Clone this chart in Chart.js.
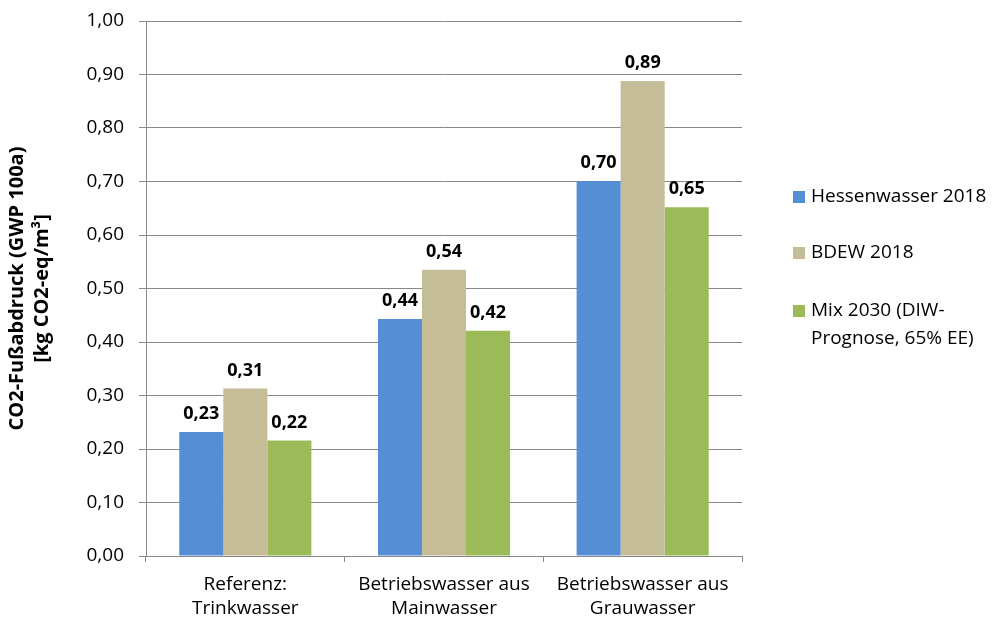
<!DOCTYPE html>
<html><head><meta charset="utf-8">
<script src="https://cdn.jsdelivr.net/npm/chart.js@4"></script>
<style>html,body{margin:0;padding:0;background:#fff}#wrap{width:995px;height:622px}</style>
</head><body><div id="wrap"><canvas id="c" width="995" height="622"></canvas></div>
<script>
const categories = [["Referenz:", "Trinkwasser"], ["Betriebswasser aus", "Mainwasser"], ["Betriebswasser aus", "Grauwasser"]];
const seriesNames = ["Hessenwasser 2018", "BDEW 2018", ["Mix 2030 (DIW-", "Prognose, 65% EE)"]];
const hessenwasser = [0.232, 0.443, 0.701];
const bdew = [0.313, 0.535, 0.888];
const mix2030 = [0.216, 0.421, 0.652];
const yTicks = [0, 0.1, 0.2, 0.3, 0.4, 0.5, 0.6, 0.7, 0.8, 0.9, 1.0];
const colors = ["#558ED5", "#C4BD97", "#9BBB59"];
const FONT = "'Open Sans', sans-serif";

const fmt = v => v.toFixed(2).replace('.', ',');

const valueLabels = {
  id: 'valueLabels',
  afterDatasetsDraw(chart) {
    const ctx = chart.ctx;
    ctx.save();
    ctx.font = "bold 18px " + FONT;
    ctx.fillStyle = "#000";
    ctx.textAlign = "center";
    ctx.textBaseline = "middle";
    chart.data.datasets.forEach((ds, i) => {
      chart.getDatasetMeta(i).data.forEach((bar, j) => {
        ctx.fillText(fmt(ds.data[j]), bar.x, bar.y - 18);
      });
    });
    ctx.restore();
  }
};

const customLegend = {
  id: 'customLegend',
  afterDraw(chart) {
    const ctx = chart.ctx;
    ctx.save();
    ctx.font = "19px " + FONT;
    ctx.textBaseline = "middle";
    const ys = [197, 253, 311];
    seriesNames.forEach((name, i) => {
      ctx.fillStyle = colors[i];
      ctx.fillRect(793, ys[i] - 6, 12, 12);
      ctx.fillStyle = "#000";
      const lines = Array.isArray(name) ? name : [name];
      lines.forEach((ln, k) => ctx.fillText(ln, 811, ys[i] + k * 28));
    });
    ctx.restore();
  }
};

new Chart(document.getElementById('c'), {
  type: 'bar',
  data: {
    labels: categories,
    datasets: [
      { label: "Hessenwasser 2018", data: hessenwasser, backgroundColor: colors[0] },
      { label: "BDEW 2018", data: bdew, backgroundColor: colors[1] },
      { label: "Mix 2030 (DIW-Prognose, 65% EE)", data: mix2030, backgroundColor: colors[2] }
    ]
  },
  options: {
    responsive: false,
    animation: false,
    layout: { padding: { top: 21, right: 253, left: 0, bottom: 0 } },
    plugins: { legend: { display: false }, tooltip: { enabled: false } },
    datasets: { bar: { categoryPercentage: 0.665, barPercentage: 1.0 } },
    scales: {
      x: {
        grid: { display: true, offset: true, drawOnChartArea: false, color: '#888', tickLength: 6, tickWidth: 1 },
        border: { color: '#888', width: 1 },
        ticks: { color: '#000', font: { family: FONT, size: 19, lineHeight: 1.25 }, padding: 11, maxRotation: 0, autoSkip: false },
        afterFit(s) { s.height = 66; s.paddingLeft = 0; s.paddingRight = 0; }
      },
      y: {
        min: 0, max: 1,
        afterBuildTicks(s) { s.ticks = yTicks.map(v => ({ value: v })); },
        grid: { color: '#888', tickLength: 7, lineWidth: 1 },
        border: { color: '#888', width: 1 },
        ticks: { color: '#000', font: { family: FONT, size: 19 }, padding: 15, callback: v => fmt(v) },
        title: { display: true, text: ['CO2-Fußabdruck (GWP 100a)', '[kg CO2-eq/m³]'], color: '#000', font: { family: FONT, size: 20, weight: 'bold', lineHeight: 1.25 }, padding: { top: 5, bottom: 6 } },
        afterFit(s) { s.width = 146; s.paddingTop = 0; s.paddingBottom = 0; }
      }
    }
  },
  plugins: [valueLabels, customLegend]
});
</script>
</body></html>
